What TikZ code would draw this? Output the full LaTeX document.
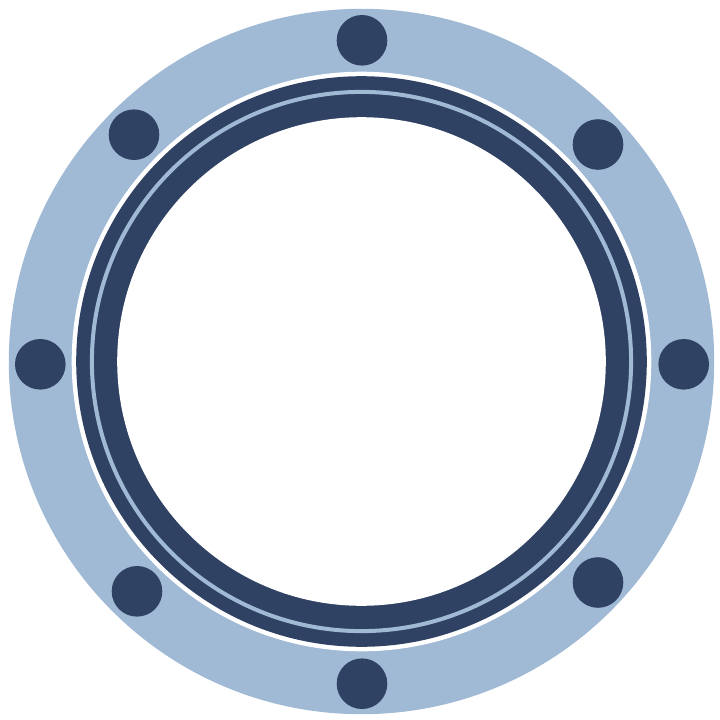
\documentclass[tikz,border=0pt]{standalone}
\usepackage{tikz}
\definecolor{flangeblue}{HTML}{A0B9D5}
\definecolor{gasketnavy}{HTML}{2F4263}

\begin{document}
\begin{tikzpicture}[x=1pt,y=-1pt,
  boltdot/.style={fill=gasketnavy}]
\useasboundingbox (0,0) rectangle (720,720);
\coordinate (c) at (361.5,361.5);

% flange ring
\fill[flangeblue] (c) circle (352.7pt);
\fill[white] (c) circle (289.8pt);

% gasket with thin groove
\fill[gasketnavy] (c) circle (285.3pt);
\draw[flangeblue,line width=4pt] (c) circle (269.6pt);
\fill[white] (c) circle (244.3pt);

% bolts
\foreach \bx/\by in {362/40.3, 598/144.5, 683.7/364.3, 598/582.5,
                     362/683.7, 137/591.3, 40.3/364.3, 134/134.7}
  \fill[boltdot] (\bx,\by) circle (25.3pt);
\end{tikzpicture}
\end{document}
